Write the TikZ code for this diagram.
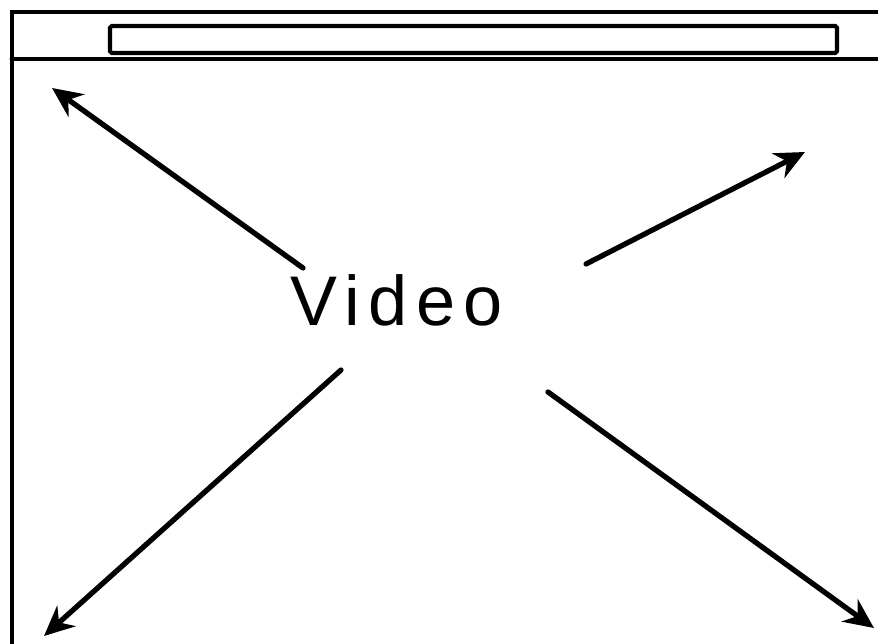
\documentclass[tikz,border=0pt]{standalone}
\usepackage{fontspec}
\setmainfont{Liberation Sans}
\usetikzlibrary{arrows.meta}

\begin{document}
\begin{tikzpicture}[x=0.02cm, y=-0.02cm,
        frame/.style={line width=2.8pt, line cap=round},
        bar/.style={line width=2.4pt, rounded corners=1pt},
        pointer/.style={line width=3pt, line cap=round, -{Stealth[length=0.6cm, width=0.55cm]}},
        label/.style={font=\fontsize{40}{40}\selectfont\addfontfeature{LetterSpace=12}}
    ]
    \useasboundingbox (0,0) rectangle (878,644);

    % Window frame with top bar
    \draw[frame] (878,12) -- (12,12) -- (12,644);
    \draw[frame] (12,59) -- (878,59);
    \draw[bar] (110,26) rectangle (837,53);

    % Centre label
    \node[label] (video) at (397,300) {Video};

    % Arrows to the corners
    \coordinate (tlstart) at (303,268);
    \coordinate (tlend) at (52,88);
    \coordinate (trstart) at (586,264);
    \coordinate (trend) at (805,152);
    \coordinate (blstart) at (341,370);
    \coordinate (blend) at (44,636);
    \coordinate (brstart) at (548,392);
    \coordinate (brend) at (874,628);
    \draw[pointer] (tlstart) -- (tlend);
    \draw[pointer] (trstart) -- (trend);
    \draw[pointer] (blstart) -- (blend);
    \draw[pointer] (brstart) -- (brend);
\end{tikzpicture}
\end{document}
